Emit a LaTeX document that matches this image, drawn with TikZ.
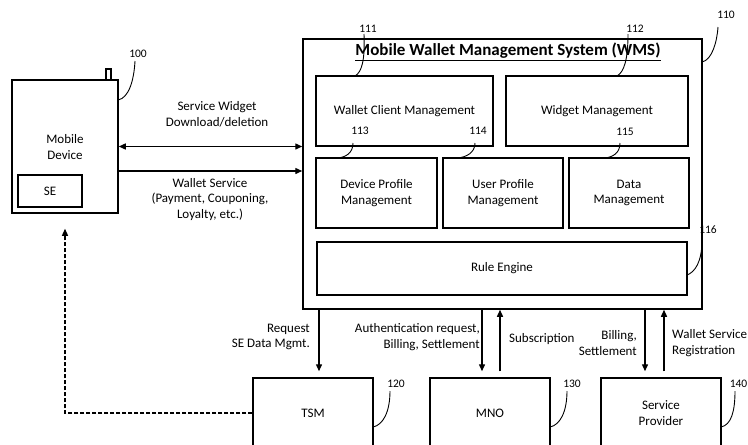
\documentclass[tikz,border=0pt]{standalone}
\usepackage{fontspec}
\setmainfont{Carlito}
\usetikzlibrary{arrows.meta,calc}
\newcommand\dfont{\fontsize{13}{15.5}\selectfont}
\newcommand\nfont{\fontsize{11.5}{13}\selectfont}
\begin{document}
\begin{tikzpicture}[x=1pt,y=-1pt,
  box/.style={draw,line width=1.3pt,inner sep=0pt,align=center,font=\dfont},
  outer/.style={draw,line width=1.5pt,inner sep=0pt,align=center,font=\dfont},
  lbl/.style={inner sep=0pt,align=center,font=\dfont},
  num/.style={inner sep=0pt,font=\nfont},
  lead/.style={line width=0.9pt},
  arr/.style={line width=1.4pt,-{Triangle[length=7pt,width=6pt]}},
  darr/.style={line width=1.4pt,{Triangle[length=7pt,width=6pt]}-{Triangle[length=7pt,width=6pt]}}]
\useasboundingbox (0,0) rectangle (748,445);
\clip (0,0) rectangle (748,445);
% mobile device
\node[outer,minimum width=106pt,minimum height=133pt] (dev) at (65,146.5) {};
\node[lbl] (devt) at (65,147) {Mobile\\Device};
\node[box,minimum width=64pt,minimum height=32pt] (se) at (50,191) {SE};
\draw[line width=1.2pt,fill=white] (106,69) rectangle (111,80);
\node[num] (n100) at (138,54) {100};
\draw[lead] (118,100) .. controls (129,98) and (134,80) .. (135,61);
% WMS
\node[outer,minimum width=399pt,minimum height=270pt] (wms) at (502.5,174) {};
\node[lbl,font=\fontsize{17}{20}\selectfont\bfseries] (title) at (508,52) {\underline{Mobile Wallet Management System (WMS)}};
\node[box,minimum width=177pt,minimum height=70pt] (wcm) at (404.5,111) {Wallet Client Management};
\node[box,minimum width=182pt,minimum height=70pt] (wgm) at (597,111) {Widget Management};
\node[box,minimum width=121pt,minimum height=70pt] (dpm) at (376.5,193) {Device Profile\\Management};
\node[box,minimum width=120pt,minimum height=70pt] (upm) at (503,193) {User Profile\\Management};
\node[box,minimum width=120pt,minimum height=70pt] (dm) at (629,193) {Data\\Management};
\node[box,minimum width=370pt,minimum height=53pt] (re) at (502,268.5) {Rule Engine};
\node[num] (n110) at (726,15) {110};
\node[num] (n111) at (368,29) {111};
\node[num] (n112) at (635,29) {112};
\node[num] (n113) at (360,131) {113};
\node[num] (n114) at (478,131) {114};
\node[num] (n115) at (625,132) {115};
\node[num] (n116) at (708,230) {116};
\draw[lead] (702,62) .. controls (712,60) and (717,42) .. (718,27);
\draw[lead] (355,76) .. controls (362,72) and (365,60) .. (364,34);
\draw[lead] (617,76) .. controls (624,72) and (628,60) .. (628,34);
\draw[lead] (338,158) .. controls (346,157) and (353,153) .. (353,143);
\draw[lead] (458,158) .. controls (466,157) and (475,153) .. (475,143);
\draw[lead] (605,158) .. controls (613,157) and (620,153) .. (620,143);
\draw[lead] (687,275) .. controls (695,272) and (702,262) .. (702,240);
% bottom boxes
\node[outer,minimum width=120pt,minimum height=70pt] (tsm) at (313,413) {TSM};
\node[outer,minimum width=120pt,minimum height=70pt] (mno) at (490,413) {MNO};
\node[outer,minimum width=120pt,minimum height=70pt] (sp) at (661,413) {Service\\Provider};
\node[num] (n120) at (396,384) {120};
\node[num] (n130) at (572,384) {130};
\node[num] (n140) at (738.5,384) {140};
\draw[lead] (373,427) .. controls (383,425) and (390,412) .. (390,391);
\draw[lead] (550,427) .. controls (560,425) and (567,412) .. (567,391);
\draw[lead] (721,427) .. controls (731,425) and (735,412) .. (735,391);
% connectors device - WMS
\draw[darr] (dev.east) -- (dev.east -| wms.west);
\draw[arr] ($(dev.east)+(0,24.5)$) -- ($(dev.east -| wms.west)+(0,24.5)$);
\node[lbl] (t1) at (217,114.5) {Service Widget\\Download/deletion};
\node[lbl] (t2) at (210,199.5) {Wallet Service\\(Payment, Couponing,\\Loyalty, etc.)};
% connectors WMS - bottom
\draw[arr,shorten >=6pt] ([xshift=6pt]tsm.north |- wms.south) -- ([xshift=6pt]tsm.north);
\draw[arr,shorten >=6pt] ([xshift=-8pt]mno.north |- wms.south) -- ([xshift=-8pt]mno.north);
\draw[arr,shorten <=6pt] ([xshift=10pt]mno.north) -- ([xshift=10pt]mno.north |- wms.south);
\draw[arr,shorten >=6pt] ([xshift=-16pt]sp.north |- wms.south) -- ([xshift=-16pt]sp.north);
\draw[arr,shorten <=6pt] ([xshift=3pt]sp.north) -- ([xshift=3pt]sp.north |- wms.south);
\node[lbl,anchor=east,align=right] (t3) at (310,337) {Request\\SE Data Mgmt.};
\node[lbl,anchor=east,align=right] (t4) at (480,337) {Authentication request,\\Billing, Settlement};
\node[lbl,anchor=west] (t5) at (509,339) {Subscription};
\node[lbl,anchor=east,align=right] (t6) at (637,343) {Billing,\\Settlement};
\node[lbl,anchor=west,align=left] (t7) at (672,343) {Wallet Service\\Registration};
% dashed TSM -> device
\draw[line width=1.3pt,dash pattern=on 4pt off 2pt,-{Triangle[length=7pt,width=6pt]},shorten >=15pt] (tsm.west) -| (dev.south);
\end{tikzpicture}
\end{document}
